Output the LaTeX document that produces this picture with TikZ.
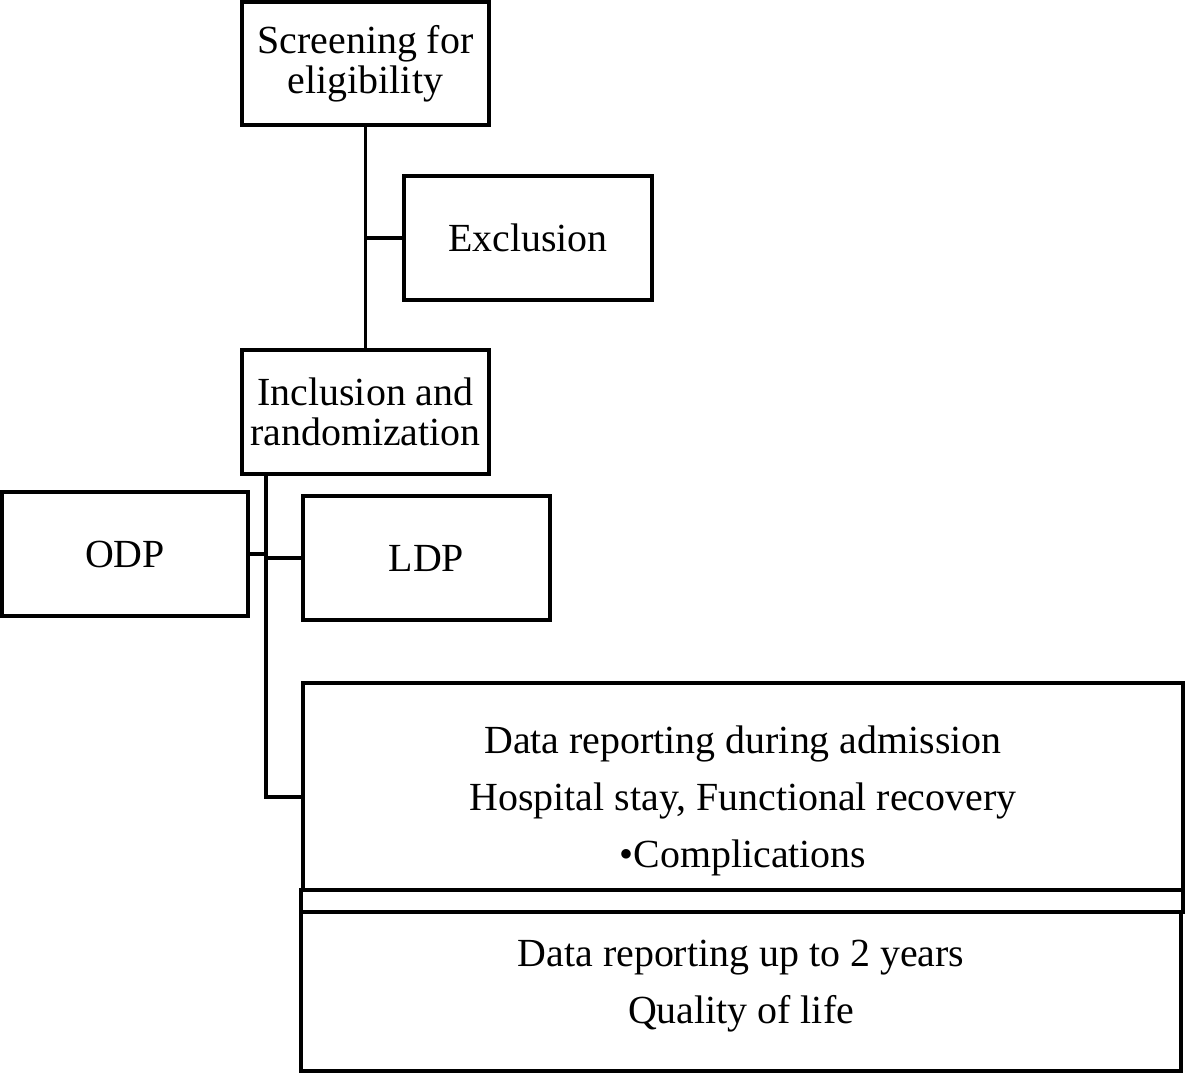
\documentclass[tikz,border=0pt]{standalone}
\usepackage{fontspec}
\setmainfont{Liberation Serif}
\tikzset{
	box/.style={draw=black, line width=2.2pt, align=center, inner sep=0pt,
		font=\fontsize{22.7}{22.7}\selectfont},
	datatext/.style={align=center, inner sep=0pt,
		font=\fontsize{22.7}{32.5}\selectfont},
	link/.style={line width=2.2pt}
}

\begin{document}
\begin{tikzpicture}[x=0.02cm, y=-0.02cm]
	\useasboundingbox (0,0) rectangle (1185,1073);
	%boxes
	\node[box, minimum width=4.94cm, minimum height=2.46cm] (screen) at (365.5,63.5) {Screening for\\eligibility};
	\node[box, minimum width=4.96cm, minimum height=2.48cm] (excl) at (528,238) {Exclusion};
	\node[box, minimum width=4.94cm, minimum height=2.48cm] (incl) at (365.5,412) {Inclusion and\\randomization};
	\node[box, minimum width=4.92cm, minimum height=2.48cm] (odp) at (125,554) {ODP};
	\node[box, minimum width=4.94cm, minimum height=2.48cm] (ldp) at (426.5,558) {LDP};
	\node[box, minimum width=17.6cm, minimum height=4.14cm] (admit) at (743,786.5) {};
	\node[box, minimum width=17.64cm, minimum height=0.44cm] (strip) at (742,901) {};
	\node[box, minimum width=17.6cm, minimum height=3.18cm] (follow) at (741,991.5) {};
	%texts
	\node[datatext] (admittext) at (743,801) {Data reporting during admission\\Hospital stay, Functional recovery\\\textbullet Complications};
	\node[datatext] (followtext) at (741,986) {Data reporting up to 2 years\\Quality of life};
	%lines
	\draw[link] (screen) -- (incl);
	\draw[link] (excl.west) -- (excl.west -| screen.south);
	\coordinate (trunk) at (266,797);
	\draw[link] (trunk |- incl.south) -- (trunk) -- (trunk -| admit.west);
	\draw[link] (odp.east) -- (odp.east -| trunk);
	\draw[link] (ldp.west) -- (ldp.west -| trunk);
\end{tikzpicture}
\end{document}
